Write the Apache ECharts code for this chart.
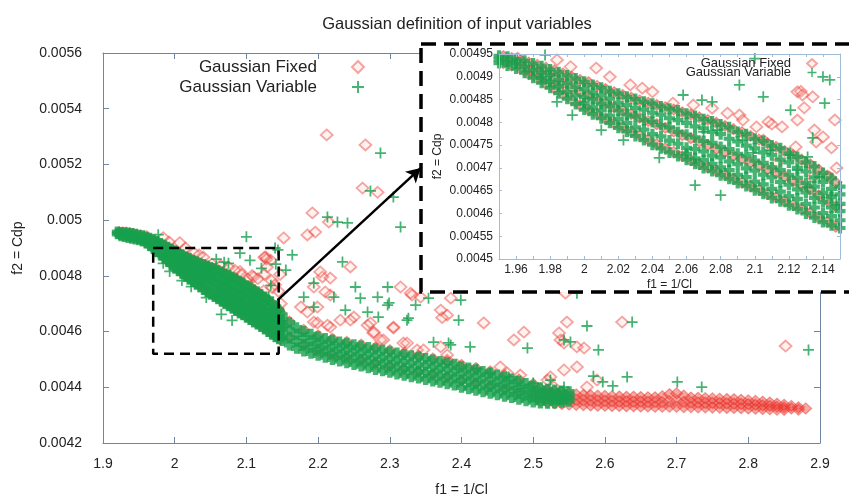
<!DOCTYPE html>
<html><head><meta charset="utf-8">
<script src="https://cdn.jsdelivr.net/npm/echarts@6/dist/echarts.min.js"></script>
<style>html,body{margin:0;padding:0;background:#fff}#c{width:849px;height:497px}</style>
</head><body><div id="c"></div>
<script>
const titleText = 'Gaussian definition of input variables';
const seriesNames = ['Gaussian Fixed', 'Gaussian Variable'];
const xName = 'f1 = 1/Cl';
const yName = 'f2 = Cdp';
const mainXRange = [1.9, 2.9, 0.1];
const mainYRange = [0.0042, 0.0056, 0.0002];
const insetXRange = [1.95, 2.15, 0.01];
const insetYRange = [0.0045, 0.00495, 0.00005];

// Dense band columns: [x, y1, y2, ...] with y given in units of 1e-6
const fixedBandCols = [
 [1.9225,4957,4950],[1.9275,4956,4946],[1.9325,4955,4944],[1.9375,4953,4940],[1.9425,4951,4937],
 [1.9475,4948,4934],[1.9525,4945,4930],[1.9575,4941,4925],[1.9625,4936,4918],[1.9675,4931,4913,4906],
 [1.9725,4926,4910,4896],[1.9775,4920,4902,4885],[1.9825,4914,4895,4874],[1.9875,4907,4885,4862],
 [1.9925,4900,4876,4850],[1.9975,4893,4866,4838],[2.0025,4888,4860,4828],[2.0075,4880,4850,4818],
 [2.0125,4873,4842,4808],[2.0175,4866,4833,4798],[2.0225,4860,4826,4789],[2.0275,4854,4818,4780],
 [2.0325,4848,4810,4771],[2.0375,4843,4803,4762],[2.0425,4838,4796,4752],[2.0475,4833,4788,4743],
 [2.0525,4828,4780,4735],[2.0575,4822,4772,4726],[2.0625,4817,4765,4717],[2.0675,4811,4758,4708],
 [2.0725,4805,4750,4701],[2.0775,4799,4742,4693],[2.0825,4792,4735,4685],[2.0875,4785,4727,4676],
 [2.0925,4778,4720,4668],[2.0975,4770,4712,4660],[2.1025,4762,4705,4652],[2.1075,4754,4697,4643],
 [2.1125,4746,4689,4635],[2.1175,4737,4681,4627],[2.1225,4728,4672,4618],[2.1275,4718,4662,4610],
 [2.1325,4708,4652,4601],[2.1375,4696,4640,4591],[2.1425,4683,4628,4581],[2.1475,4668,4616,4571],
 [2.16,4636,4580],[2.18,4606,4550],[2.20,4586,4530],[2.22,4574,4515],[2.24,4563,4505],[2.26,4553,4495],
 [2.28,4543,4485],[2.30,4533,4475],[2.32,4523,4465],[2.34,4513,4455],[2.36,4503,4445],[2.38,4493,4435],
 [2.40,4480,4425],[2.42,4469,4415],[2.44,4457,4405],[2.46,4443,4395],[2.48,4428,4385],[2.50,4412,4372],
 [2.51,4395,4372,4350],[2.52,4390,4368,4346],[2.53,4385,4364,4342],[2.54,4380,4360,4340],[2.55,4376,4357,4338],
 [2.56,4374,4355,4337],[2.57,4372,4354,4336],[2.58,4371,4353,4335],[2.59,4370,4352,4334],[2.60,4369,4351,4334],
 [2.61,4368,4350,4333],[2.62,4367,4349,4333],[2.63,4366,4349,4332],[2.64,4366,4348,4332],[2.65,4365,4348,4331],
 [2.66,4364,4347,4331],[2.67,4364,4347,4330],[2.68,4368,4347,4330],[2.69,4375,4350,4330],[2.70,4378,4352,4330],
 [2.71,4370,4348,4329],[2.72,4363,4346,4329],[2.73,4362,4345,4328],[2.74,4361,4344,4328],[2.75,4360,4344,4327],
 [2.76,4359,4343,4327],[2.77,4358,4342,4326],[2.78,4357,4341,4326],[2.79,4355,4340,4325],[2.80,4353,4339,4324],
 [2.81,4351,4337,4323],[2.82,4348,4335,4322],[2.83,4345,4333,4321],[2.84,4341,4330,4320],[2.85,4337,4327,4319],
 [2.86,4333,4324],[2.87,4328,4320],[2.88,4324]
];
const variableBandCols = [
 [1.920,4957,4951],[1.925,4956,4949,4944],[1.930,4955,4947,4941],[1.935,4954,4945,4938],[1.940,4952,4943,4935],
 [1.945,4949,4940,4932],[1.950,4946,4938,4930],[1.955,4944,4934,4925],[1.960,4939,4929,4918],[1.965,4935,4922,4909],
 [1.970,4929,4914,4898],[1.975,4923,4909,4897,4887],[1.980,4916,4903,4889,4876],[1.985,4910,4893,4879,4864],
 [1.990,4903,4886,4867,4852],[1.995,4896,4878,4859,4840],[2.000,4889,4873,4855,4842,4828],
 [2.005,4882,4865,4851,4833,4818],[2.010,4876,4859,4841,4826,4809],[2.015,4868,4852,4835,4815,4799],
 [2.020,4863,4843,4826,4807,4788],[2.025,4856,4838,4817,4799,4780],[2.030,4851,4831,4813,4789,4770],
 [2.035,4845,4828,4805,4784,4761],[2.040,4841,4821,4801,4774,4751],[2.045,4835,4817,4794,4769,4743],
 [2.050,4830,4809,4789,4760,4734],[2.055,4826,4805,4779,4753,4726],[2.060,4819,4799,4773,4744,4731,4718],
 [2.065,4814,4791,4767,4741,4721,4709],[2.070,4807,4787,4759,4736,4717,4700],[2.075,4802,4779,4755,4727,4709,4693],
 [2.080,4795,4774,4746,4723,4701,4684],[2.085,4789,4764,4741,4714,4695,4676],[2.090,4779,4758,4731,4708,4685,4667],
 [2.095,4774,4749,4726,4699,4680,4660],[2.100,4764,4743,4716,4694,4670,4651],[2.105,4759,4734,4711,4685,4664,4643],
 [2.110,4749,4728,4701,4679,4654,4634],[2.115,4743,4718,4695,4669,4648,4627],[2.120,4732,4712,4685,4663,4638,4618],
 [2.125,4724,4700,4678,4653,4632,4610],[2.130,4712,4692,4667,4646,4621,4600],[2.135,4703,4679,4659,4634,4613,4591],
 [2.140,4689,4669,4645,4625,4601,4581],[2.145,4677,4654,4635,4613,4594,4574],[2.150,4659,4642,4621,4605,4585,4568],
 [2.16,4632,4606,4577,4552],[2.17,4614,4590,4565,4540],[2.18,4600,4577,4553,4530],[2.19,4590,4567,4544,4522],
 [2.20,4581,4559,4537,4515],[2.21,4575,4552,4530,4508],[2.22,4569,4546,4523,4500],[2.23,4563,4540,4517,4494],
 [2.24,4558,4535,4511,4488],[2.25,4553,4530,4506,4482],[2.26,4548,4524,4500,4476],[2.27,4543,4519,4494,4470],
 [2.28,4538,4513,4489,4464],[2.29,4533,4508,4484,4459],[2.30,4528,4503,4478,4454],[2.31,4523,4498,4473,4448],
 [2.32,4518,4493,4468,4443],[2.33,4513,4488,4463,4438],[2.34,4508,4483,4458,4433],[2.35,4503,4478,4453,4428],
 [2.36,4498,4473,4448,4423],[2.37,4493,4468,4443,4418],[2.38,4488,4463,4438,4413],[2.39,4483,4458,4433,4408],
 [2.40,4474,4450,4425,4400],[2.41,4469,4444,4420,4395],[2.42,4463,4438,4414,4389],[2.43,4457,4433,4408,4384],
 [2.44,4451,4427,4403,4379],[2.45,4444,4420,4397,4373],[2.46,4437,4414,4391,4368],[2.47,4430,4408,4385,4363],
 [2.48,4422,4400,4378,4357],[2.49,4414,4393,4372,4352],[2.50,4405,4385,4366,4347],[2.51,4398,4380,4362,4344],
 [2.52,4393,4376,4360,4343],[2.53,4390,4372,4357,4344],[2.54,4387,4370,4356,4346],[2.55,4384,4366,4350]
];
// Isolated points [x, y(1e-6)]
const fixedScatter = [
 [2.212,5306],[2.266,5270],[2.262,5115],[2.283,5100],[2.192,5026],[2.215,4993],[2.185,4947],[2.196,4957],[2.152,4936],
 [2.127,4868],[2.129,4832],[2.110,4796],[2.194,4760],[2.206,4796],[2.217,4792],[2.245,4832],[2.176,4688],[2.185,4670],
 [2.199,4688],[2.217,4731],[2.231,4641],[2.199,4631],[2.217,4616],[2.250,4652],[2.269,4623],[2.277,4595],[2.305,4616],
 [2.315,4760],[2.331,4731],[2.343,4724],[2.371,4677],[2.380,4659],[2.319,4559],[2.338,4534],[2.287,4570],[2.371,4545],
 [2.380,4498],[2.203,4814],[2.210,4742],[2.329,4738],[2.385,4720],[2.373,4650],[2.431,4631],[2.487,4598],[2.473,4570],
 [2.538,4570],[2.194,4634],[2.213,4623],[2.245,4641],[2.273,4631],[2.305,4613],[2.278,4598],[2.324,4559],[2.347,4534],
 [2.380,4516],[2.394,4480],[2.412,4462],[2.454,4473],[2.464,4451],[2.482,4444],[2.520,4426],[2.529,4401],[2.291,4570],
 [2.545,4738],[2.547,4634],[2.624,4634],[2.536,4595],[2.543,4559],[2.561,4545],[2.571,4541],[2.852,4548],[2.561,4473],
 [2.543,4462],[2.524,4437],[2.575,4401],[2.589,4426],
 [2.125,4867],[2.128,4860],[2.134,4856],[2.147,4805],[2.108,4801],[2.116,4790],[2.125,4805],[2.091,4816],[2.135,4783],
 [2.140,4768],[2.136,4757],[2.124,4746],[2.145,4744],[2.148,4700],[2.144,4680],[2.134,4680],[2.113,4711],
 [2.007,4919],[2.015,4900],[2.027,4882],[2.034,4875],[2.040,4867],[2.052,4842],[2.064,4838],[2.075,4831],[2.084,4820],
 [2.093,4805],[2.101,4790],[2.105,4761],[1.961,4941],[1.984,4937],[1.992,4922]
];
const variableScatter = [
 [2.287,5241],[2.273,5105],[2.305,5083],[2.213,5011],[2.227,4993],[2.241,4990],[2.315,4975],[2.100,4940],
 [2.164,4875],[2.155,4821],[2.234,4850],[2.252,4760],[2.297,4760],[2.259,4720],[2.283,4724],[2.297,4695],
 [2.336,4695],[2.238,4677],[2.180,4724],[2.194,4688],[2.269,4670],[2.284,4652],[2.326,4648],[2.361,4562],
 [2.382,4559],[2.194,4774],[2.222,4724],[2.299,4703],[2.324,4641],[2.396,4641],[2.354,4720],[2.399,4713],
 [2.385,4552],[2.412,4545],[2.492,4541],[2.422,4466],[2.440,4451],[2.500,4415],[2.466,4437],
 [2.561,4738],[2.575,4620],[2.638,4634],[2.543,4570],[2.552,4563],[2.591,4534],[2.884,4534],[2.584,4440],
 [2.597,4419],[2.611,4405],[2.631,4437],[2.701,4419],[2.735,4401],[2.524,4426],[2.543,4401],[2.538,4361],
 [1.993,4816],[2.010,4783],[2.023,4761],[1.984,4845],[2.065,4662],[2.080,4640],[2.044,4722],
 [1.977,4948],[2.058,4860],[2.069,4849],[2.075,4845],[2.091,4882],[2.105,4856],[2.121,4827],[2.140,4900],
 [2.144,4893],[2.141,4842],[2.134,4766],[2.131,4724],[2.121,4728],[2.109,4739],[2.125,4695],[2.131,4658],
 [2.138,4680],[2.145,4640],[2.148,4619],[2.093,4761],[2.099,4733],[2.070,4779],[2.078,4783]
];
// Annotation in data coordinates (y in 1e-6)
const zoomBox = [[1.97,4900],[2.145,4900],[2.145,4520],[1.97,4520],[1.97,4900]];
const arrowFrom = [2.1435,4713];
const arrowTo = [2.343,5187];

const U = 1e-6;
const fromCols = cols => cols.flatMap(([x, ...ys]) => ys.map(y => [x, y * U]));
const fromPts = pts => pts.map(([x, y]) => [x, y * U]);
const fixedBand = fromCols(fixedBandCols), fixedIso = fromPts(fixedScatter);
const varBand = fromCols(variableBandCols), varIso = fromPts(variableScatter);

const FONT = 'Liberation Sans, Arial, sans-serif';
const mainAxisColor = '#6f86a2';
const insetAxisColor = '#9fbbd6';
const plusThin = 'path://M0,4.2H10V5.8H0Z M4.2,0H5.8V10H4.2Z';
const plusBold = 'path://M0,3.1H10V6.9H0Z M3.1,0H6.9V10H3.1Z';
const plusHeavy = 'path://M0,2.6H10V7.4H0Z M2.6,0H7.4V10H2.6Z';
const fixedIsoStyle = {color:'rgba(255,170,160,0.18)', borderColor:'rgba(232,55,45,0.55)', borderWidth:1.8};
const fixedBandStyle = {color:'rgba(236,60,50,0.55)', borderColor:'rgba(232,55,45,0.6)', borderWidth:1.2};
const varStyle = {color:'#16a04e'};

function mkAxis(range, opts) {
  const color = opts.color;
  return Object.assign({
    type:'value', min:range[0], max:range[1], interval:range[2],
    gridIndex: opts.grid, z: opts.z || 0,
    splitLine:{show:false},
    axisLine:{show:true, onZero:false, lineStyle:{color, width:1}},
    axisTick:{show:true, inside:true, length: opts.tick || 6, lineStyle:{color}},
    axisLabel: opts.mirror ? {show:false} : {
      show:true, fontSize: opts.fs, color:'#222', fontFamily:FONT, margin: opts.margin,
      formatter: opts.formatter
    }
  }, opts.extra || {});
}
const insetFormatter = v => { const k = Math.round(v * 100); return k % 2 === 0 ? String(k / 100) : ''; };

function seriesSet(xi, yi, z, bandPlus) {
  return [
    {type:'scatter', name:seriesNames[0], xAxisIndex:xi, yAxisIndex:yi, data:fixedIso, symbol:'diamond', symbolSize:[12,11], itemStyle:fixedIsoStyle, z, silent:true},
    {type:'scatter', name:seriesNames[0], xAxisIndex:xi, yAxisIndex:yi, data:fixedBand, symbol:'diamond', symbolSize:[12,11], itemStyle:fixedBandStyle, z, silent:true},
    {type:'scatter', name:seriesNames[1], xAxisIndex:xi, yAxisIndex:yi, data:varIso, symbol:plusThin, symbolSize:11, itemStyle:varStyle, z, silent:true},
    {type:'scatter', name:seriesNames[1], xAxisIndex:xi, yAxisIndex:yi, data:varBand, symbol:bandPlus, symbolSize:11, itemStyle:varStyle, z, silent:true}
  ];
}

const option = {
  animation:false,
  backgroundColor:'#fff',
  title:{text:titleText, left:452, top:11, textAlign:'center',
    textStyle:{fontSize:16.5, fontWeight:'normal', color:'#222', fontFamily:FONT}},
  grid:[
    {left:103, right:29, top:53, bottom:54, outerBoundsMode:'none', containLabel:false},
    {left:499, right:9, top:54, bottom:238, outerBoundsMode:'none', containLabel:false, z:10}
  ],
  xAxis:[
    mkAxis(mainXRange, {grid:0, color:mainAxisColor, fs:14, margin:14, extra:{position:'bottom', name:xName, nameLocation:'middle', nameGap:40, nameMoveOverlap:false, nameTextStyle:{fontSize:14, color:'#222', fontFamily:FONT}}}),
    mkAxis(mainXRange, {grid:0, color:mainAxisColor, mirror:true, extra:{position:'top'}}),
    mkAxis(insetXRange, {grid:1, color:insetAxisColor, fs:12, margin:5, tick:3, z:11, formatter:insetFormatter, extra:{position:'bottom', name:xName, nameLocation:'middle', nameGap:20, nameMoveOverlap:false, nameTextStyle:{fontSize:12, color:'#222', fontFamily:FONT}}}),
    mkAxis(insetXRange, {grid:1, color:insetAxisColor, mirror:true, tick:3, z:11, extra:{position:'top'}})
  ],
  yAxis:[
    mkAxis(mainYRange, {grid:0, color:mainAxisColor, fs:14, margin:21, extra:{position:'left', name:yName, nameLocation:'middle', nameGap:78, nameMoveOverlap:false, nameTextStyle:{fontSize:14, color:'#222', fontFamily:FONT}}}),
    mkAxis(mainYRange, {grid:0, color:mainAxisColor, mirror:true, extra:{position:'right'}}),
    mkAxis(insetYRange, {grid:1, color:insetAxisColor, fs:12, margin:6, tick:3, z:11, extra:{position:'left', name:yName, nameLocation:'middle', nameGap:55, nameMoveOverlap:false, nameTextStyle:{fontSize:12, color:'#222', fontFamily:FONT}}}),
    mkAxis(insetYRange, {grid:1, color:insetAxisColor, mirror:true, tick:3, z:11, extra:{position:'right'}})
  ],
  legend:[
    {data:seriesNames, orient:'vertical', align:'right', right:479, top:53, itemWidth:12, itemHeight:12, itemGap:2,
     selectedMode:false, z:12, textStyle:{fontSize:17, lineHeight:18, color:'#222', fontFamily:FONT, padding:[0,30,0,0]}},
    {data:seriesNames, orient:'vertical', align:'right', right:26, top:52, itemWidth:10, itemHeight:9, itemGap:-4,
     selectedMode:false, z:12, textStyle:{fontSize:13, lineHeight:10, color:'#222', fontFamily:FONT, padding:[0,11,0,0]}}
  ],
  graphic:[
    {type:'rect', z:5, silent:true, shape:{x:421, y:44, width:440, height:248},
     style:{fill:'#fff', stroke:'#000', lineWidth:3.5, lineDash:[15,8]}}
  ],
  series:[
    ...seriesSet(0, 0, 2, plusHeavy),
    {type:'line', name:'box', xAxisIndex:0, yAxisIndex:0, data:fromPts(zoomBox), symbol:'none', silent:true, z:3,
     lineStyle:{color:'#000', width:2.5, type:[10,6]},
     markLine:{silent:true, symbol:['none','arrow'], symbolSize:[12,14], label:{show:false},
       lineStyle:{color:'#000', width:2.5, type:'solid'},
       data:[[{coord:fromPts([arrowFrom])[0]},{coord:fromPts([arrowTo])[0]}]]}},
    ...seriesSet(2, 2, 10, plusBold)
  ]
};
const chart = echarts.init(document.getElementById('c'), null, {renderer:'canvas'});
chart.setOption(option);
</script>
</body></html>
